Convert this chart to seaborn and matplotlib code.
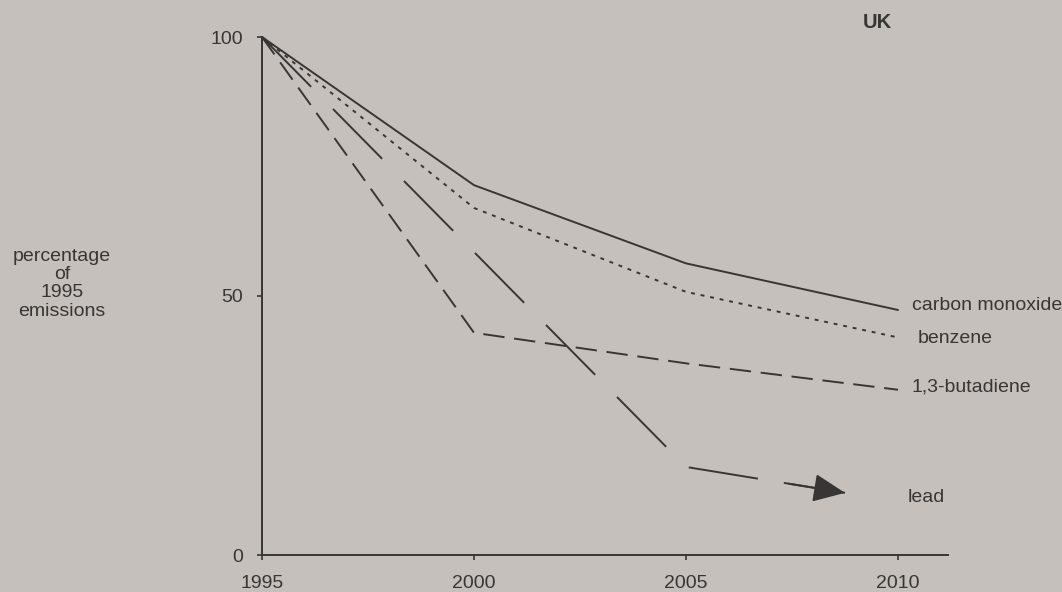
# UK emissions relative to 1995

import numpy as np
import pandas as pd
import seaborn as sns
from matplotlib import pyplot as plt

# Values (percentage of 1995 emissions)
years = [1995, 2000, 2005, 2010]
carbon_monoxide = [100, 71.4, 56.3, 47.3]
benzene = [100, 67.0, 50.8, 42.0]
butadiene = [100, 42.9, 37.0, 31.9]
lead_years = [1995, 2005, 2008.75]
lead = [100, 17.0, 12.0]

series_names = ['carbon monoxide', 'benzene', '1,3-butadiene', 'lead']
x_ticks = [1995, 2000, 2005, 2010]
y_ticks = [0, 50, 100]

# Long format table for seaborn
frames = []
for name, xs, ys in zip(series_names,
                        [years, years, years, lead_years],
                        [carbon_monoxide, benzene, butadiene, lead]):
    frames.append(pd.DataFrame({'year': xs, 'pct': ys, 'pollutant': name}))
df = pd.concat(frames, ignore_index=True)

paper = '#c6c0bc'
ink = '#383634'

sns.set_style('ticks', rc={'axes.facecolor': paper, 'figure.facecolor': paper,
                           'axes.edgecolor': ink, 'xtick.color': ink,
                           'ytick.color': ink, 'text.color': ink})
plt.rcParams['font.family'] = ['Liberation Sans', 'DejaVu Sans']
plt.rcParams['font.size'] = 14

fig = plt.figure(figsize=(10.62, 5.92), dpi=100)
ax = fig.add_axes([0.2467, 0.0625, 0.646, 0.875])

line_dashes = {'carbon monoxide': '', 'benzene': (2, 3),
               '1,3-butadiene': (11, 5), 'lead': (36, 16)}
sns.lineplot(data=df, x='year', y='pct', style='pollutant', dashes=line_dashes,
             color=ink, linewidth=1.4, estimator=None, legend=False,
             ax=ax, clip_on=False)

# Arrow head on the end of the lead line
tip = np.array([lead_years[-1], lead[-1]])
prev = np.array([lead_years[-2], lead[-2]])
tail = tip - 0.38 * (tip - prev)
ax.annotate('', xy=tip, xytext=tail,
            arrowprops=dict(arrowstyle='-|>,head_length=0.9,head_width=0.4',
                            mutation_scale=22, color=ink, lw=1.4,
                            shrinkA=0, shrinkB=0))

# Series labels next to the line ends
offsets = {'carbon monoxide': (10, 3.5), 'benzene': (14.5, -0.7),
           '1,3-butadiene': (10, 2), 'lead': (45, -3.6)}
ends = {'carbon monoxide': (years[-1], carbon_monoxide[-1]),
        'benzene': (years[-1], benzene[-1]),
        '1,3-butadiene': (years[-1], butadiene[-1]),
        'lead': (lead_years[-1], lead[-1])}
for name in series_names:
    ax.annotate(name, xy=ends[name], xytext=offsets[name],
                textcoords='offset points', ha='left', va='center',
                annotation_clip=False)

ax.set_xlim(1995, 2011.18)
ax.set_ylim(0, 100)
ax.set_xticks(x_ticks)
ax.set_yticks(y_ticks)
ax.tick_params(axis='both', length=3.5, width=1.2, pad=11)
ax.tick_params(axis='y', pad=10)
ax.set_xlabel('')
ax.set_ylabel('')
for side in ['top', 'right']:
    ax.spines[side].set_visible(False)
for side in ['left', 'bottom']:
    ax.spines[side].set_linewidth(1.4)

fig.text(62 / 1062, 0.521, 'percentage\nof\n1995\nemissions',
         ha='center', va='center', multialignment='center', linespacing=1.1)
fig.text(877 / 1062, 1 - 23 / 592, 'UK', ha='center', va='center',
         fontweight='bold', fontsize=14.5)

fig.savefig('out.png', dpi=100, facecolor=paper)
